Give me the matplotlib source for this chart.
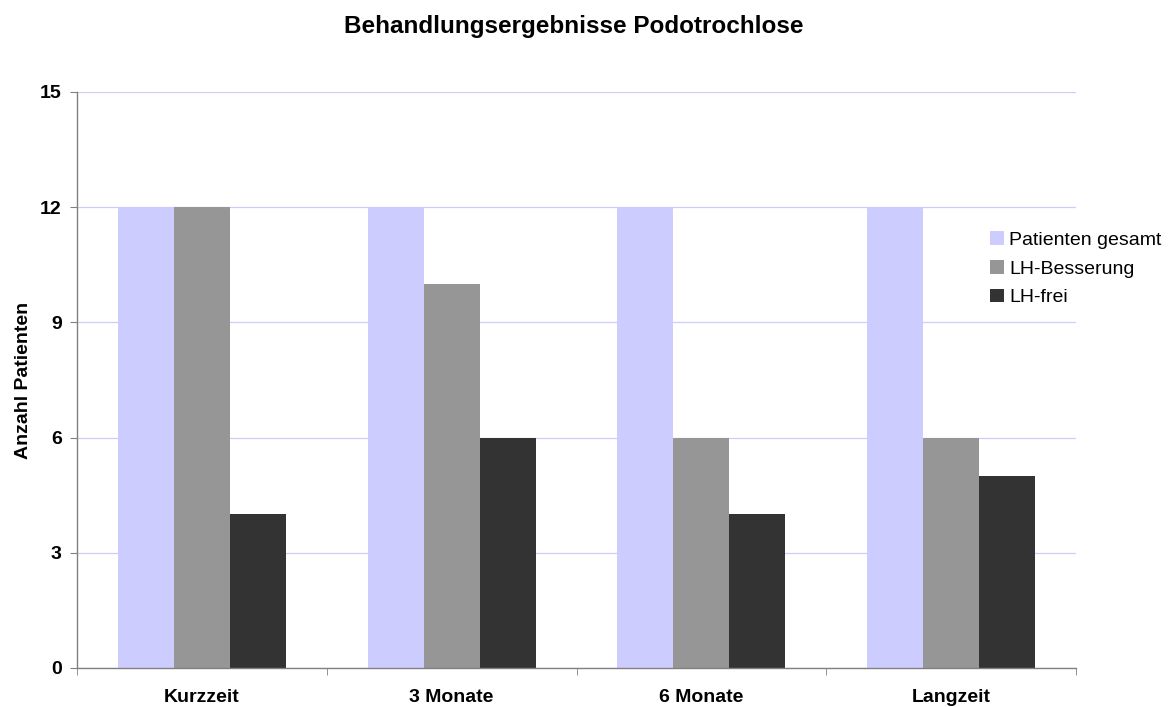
import matplotlib
matplotlib.use("Agg")
import matplotlib.pyplot as plt
import numpy as np

plt.rcParams['font.family'] = ['Liberation Sans', 'DejaVu Sans']

categories = ["Kurzzeit", "3 Monate", "6 Monate", "Langzeit"]
series_names = ["Patienten gesamt", "LH-Besserung", "LH-frei"]
patienten_gesamt = [12, 12, 12, 12]
lh_besserung = [12, 10, 6, 6]
lh_frei = [4, 6, 4, 5]
y_ticks = [0, 3, 6, 9, 12, 15]

colors = ["#CCCCFF", "#969696", "#333333"]
series = [patienten_gesamt, lh_besserung, lh_frei]

fig = plt.figure(figsize=(11.71, 7.07), dpi=100)
ax = fig.add_axes([77/1171, 1 - 668/707, (1076 - 77)/1171, (668 - 92)/707])

x = np.arange(len(categories))
width = 0.224
for i, (vals, name, c) in enumerate(zip(series, series_names, colors)):
    ax.bar(x + (i - 1) * width, vals, width, color=c, label=name, zorder=2, linewidth=0)

ax.set_xlim(-0.5, len(categories) - 0.5)
ax.set_ylim(0, 15)
ax.set_yticks(y_ticks)
ax.set_yticklabels([str(v) for v in y_ticks], fontsize=14, fontweight='bold')
ax.yaxis.grid(True, color="#CCCCFF", linewidth=0.9, zorder=0)
ax.set_axisbelow(True)

ax.set_xticks(x)
ax.set_xticklabels(categories, fontsize=14, fontweight='bold')
ax.tick_params(axis='x', which='major', length=0, pad=15)
ax.set_xticks(np.arange(-0.5, len(categories)), minor=True)
ax.tick_params(axis='x', which='minor', length=5, color="#808080", direction='out')
ax.tick_params(axis='y', length=5, color="#808080", direction='out', pad=6)

for s in ["top", "right"]:
    ax.spines[s].set_visible(False)
for s in ["left", "bottom"]:
    ax.spines[s].set_color("#808080")
    ax.spines[s].set_linewidth(1.0)

ax.set_ylabel("Anzahl Patienten", fontsize=14, fontweight='bold', labelpad=6)

fig.text(0.49, 1 - 26/707, "Behandlungsergebnisse Podotrochlose", ha='center', va='center',
         fontsize=17.5, fontweight='bold')

leg = ax.legend(loc='upper left', bbox_to_anchor=(990/1171, 1 - 231/707), bbox_transform=fig.transFigure,
                frameon=False, fontsize=14, handlelength=0.72, handleheight=0.7, handletextpad=0.26,
                labelspacing=0.58, borderaxespad=0, borderpad=0)

fig.savefig("out.png", dpi=100)
